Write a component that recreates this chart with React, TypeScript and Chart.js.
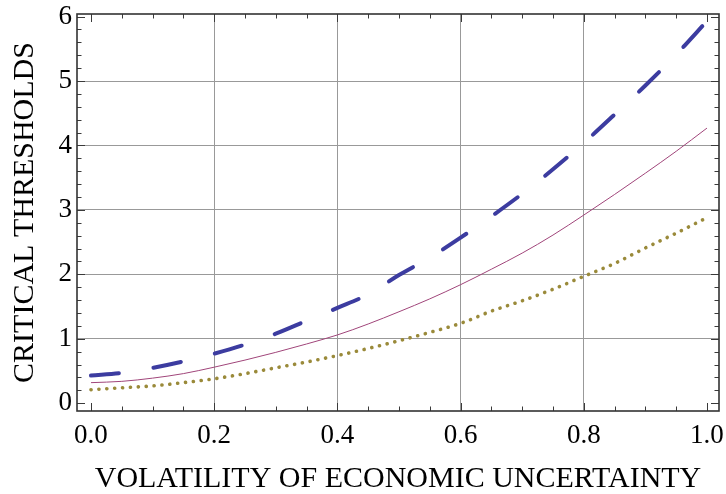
import React, { useEffect, useRef } from "react";
import { Chart, registerables } from "chart.js";

Chart.register(...registerables);

// ---- data ----
const volatility = [
  0, 0.05, 0.1, 0.15, 0.2, 0.25, 0.3, 0.35, 0.4, 0.45, 0.5,
  0.55, 0.6, 0.65, 0.7, 0.75, 0.8, 0.85, 0.9, 0.95, 1.0,
];
const dashedSeries = [
  0.43, 0.47, 0.55, 0.65, 0.77, 0.91, 1.08, 1.28, 1.48, 1.69, 1.99,
  2.26, 2.57, 2.9, 3.25, 3.63, 4.04, 4.48, 4.93, 5.41, 5.93,
];
const solidSeries = [
  0.32, 0.34, 0.39, 0.46, 0.56, 0.67, 0.79, 0.92, 1.06, 1.23, 1.42,
  1.62, 1.84, 2.08, 2.33, 2.61, 2.92, 3.24, 3.57, 3.91, 4.27,
];
const dottedSeries = [
  0.21, 0.24, 0.27, 0.32, 0.38, 0.46, 0.55, 0.64, 0.74, 0.85, 0.97,
  1.1, 1.24, 1.43, 1.59, 1.77, 1.97, 2.17, 2.41, 2.64, 2.88,
];
const xTickValues = [0, 0.2, 0.4, 0.6, 0.8, 1.0];
const yTickValues = [0, 1, 2, 3, 4, 5, 6];
const xMinorStep = 0.05;
const yMinorStep = 0.2;
const xTitle = "VOLATILITY OF ECONOMIC UNCERTAINTY";
const yTitle = "CRITICAL THRESHOLDS";

const FONT = "'Liberation Serif', 'Times New Roman', serif";

const framePlugin = {
  id: "mmaFrame",
  afterDraw(chart: any) {
    const { ctx, chartArea } = chart;
    const xs = chart.scales.x;
    const ys = chart.scales.y;
    const { left, right, top, bottom } = chartArea;
    ctx.save();
    ctx.strokeStyle = "#3a3a3a";
    ctx.lineWidth = 1;
    ctx.beginPath();
    const major = 8;
    const minor = 4.5;
    const isMajor = (v: number, list: number[]) =>
      list.some((m) => Math.abs(m - v) < 1e-6);
    for (let i = -1; i <= 21; i++) {
      const v = i * xMinorStep;
      if (v < xs.min || v > xs.max) continue;
      const px = Math.round(xs.getPixelForValue(v)) + 0.5;
      const len = isMajor(v, xTickValues) ? major : minor;
      ctx.moveTo(px, bottom);
      ctx.lineTo(px, bottom - len);
      ctx.moveTo(px, top);
      ctx.lineTo(px, top + len);
    }
    for (let i = -1; i <= 31; i++) {
      const v = i * yMinorStep;
      if (v < ys.min || v > ys.max) continue;
      const py = Math.round(ys.getPixelForValue(v)) + 0.5;
      const len = isMajor(v, yTickValues) ? major : minor;
      ctx.moveTo(left, py);
      ctx.lineTo(left + len, py);
      ctx.moveTo(right, py);
      ctx.lineTo(right - len, py);
    }
    ctx.stroke();
    ctx.lineWidth = 1.6;
    ctx.strokeStyle = "#333";
    ctx.strokeRect(left, top, right - left, bottom - top);
    ctx.restore();
  },
};

export default function App() {
  const canvasRef = useRef<HTMLCanvasElement | null>(null);

  useEffect(() => {
    document.body.style.margin = "0";
    const canvas = canvasRef.current;
    if (!canvas) return;
    const toPoints = (ys: number[]) =>
      volatility.map((x, i) => ({ x, y: ys[i] }));

    const chart = new Chart(canvas, {
      type: "line",
      data: {
        datasets: [
          {
            label: "dashed",
            data: toPoints(dashedSeries),
            borderColor: "#3c3ca0",
            borderWidth: 4,
            borderDash: [28, 35],
            borderCapStyle: "round",
            pointRadius: 0,
            cubicInterpolationMode: "monotone",
            fill: false,
          },
          {
            label: "solid",
            data: toPoints(solidSeries),
            borderColor: "#a0457a",
            borderWidth: 1,
            pointRadius: 0,
            cubicInterpolationMode: "monotone",
            fill: false,
          },
          {
            label: "dotted",
            data: toPoints(dottedSeries),
            borderColor: "#9a8a3a",
            borderWidth: 3.6,
            borderDash: [0.1, 7.8],
            borderCapStyle: "round",
            pointRadius: 0,
            cubicInterpolationMode: "monotone",
            fill: false,
          },
        ],
      },
      options: {
        animation: false,
        responsive: false,
        devicePixelRatio: 1,
        layout: { padding: { top: 14, right: 7, left: 0, bottom: 0 } },
        plugins: {
          legend: { display: false },
          tooltip: { enabled: false },
        },
        scales: {
          x: {
            type: "linear",
            min: -0.0227,
            max: 1.0195,
            afterBuildTicks: (scale: any) => {
              scale.ticks = xTickValues.map((v) => ({ value: v }));
            },
            afterFit: (scale: any) => {
              scale.height = 83;
              scale.paddingLeft = 0;
              scale.paddingRight = 0;
            },
            ticks: {
              callback: (v: any) => Number(v).toFixed(1),
              font: { family: FONT, size: 27 },
              color: "#000",
              padding: 9,
              maxRotation: 0,
              autoSkip: false,
            },
            grid: {
              drawTicks: false,
              color: (c: any) =>
                c.tick && (c.tick.value === 0 || c.tick.value === 1)
                  ? "rgba(0,0,0,0)"
                  : "#999",
              lineWidth: 1,
            },
            border: { display: false },
            title: {
              display: true,
              text: xTitle,
              font: { family: FONT, size: 30, lineHeight: 1 },
              color: "#000",
              padding: { top: 0, bottom: 0 },
            },
          },
          y: {
            type: "linear",
            min: -0.12,
            max: 6.04,
            afterBuildTicks: (scale: any) => {
              scale.ticks = yTickValues.map((v) => ({ value: v }));
            },
            afterFit: (scale: any) => {
              scale.width = 77;
              scale.paddingTop = 0;
              scale.paddingBottom = 0;
            },
            ticks: {
              callback: (v: any) => String(v),
              font: { family: FONT, size: 27 },
              color: "#000",
              padding: 5,
              autoSkip: false,
            },
            grid: {
              drawTicks: false,
              color: (c: any) =>
                c.tick && (c.tick.value === 0 || c.tick.value === 6)
                  ? "rgba(0,0,0,0)"
                  : "#999",
              lineWidth: 1,
            },
            border: { display: false },
            title: {
              display: true,
              text: yTitle,
              font: { family: FONT, size: 30, lineHeight: 1 },
              color: "#000",
              padding: { top: 10, bottom: 0 },
            },
          },
        },
      },
      plugins: [framePlugin],
    } as any);

    return () => chart.destroy();
  }, []);

  return (
    <div style={{ width: 726, height: 494, background: "#fff" }}>
      <canvas
        ref={canvasRef}
        width={726}
        height={494}
        style={{ display: "block", width: 726, height: 494 }}
      />
    </div>
  );
}
